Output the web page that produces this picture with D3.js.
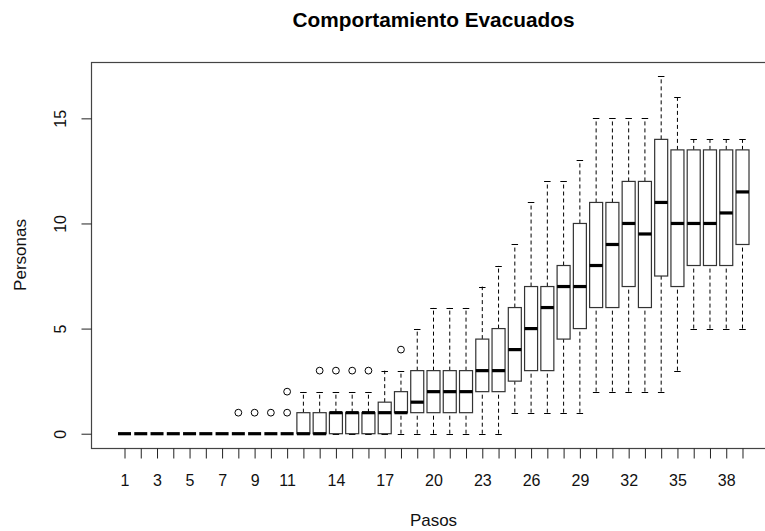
<!DOCTYPE html>
<html>
<head>
<meta charset="utf-8">
<script src="https://cdn.jsdelivr.net/npm/d3@7"></script>
<style>
  body { margin: 0; background: #fff; }
  svg { display: block; font-family: 'Liberation Sans', Arial, sans-serif; }
</style>
</head>
<body>
<div id="chart"></div>
<script>
// one box per step (Pasos 1..39)
const steps = d3.range(1, 40);
const whiskerLow = [0,0,0,0,0,0,0,0,0,0,0, 0,0,0,0,0,0,0,0,0,0,0,0,0, 1,1,1,1,1, 2,2,2,2,2, 3,5,5,5,5];
const q1 =         [0,0,0,0,0,0,0,0,0,0,0, 0,0,0,0,0,0,1,1,1,1,1,2,2, 2.5,3,3,4.5,5, 6,6,7,6,7.5, 7,8,8,8,9];
const median =     [0,0,0,0,0,0,0,0,0,0,0, 0,0,1,1,1,1,1,1.5,2,2,2,3,3, 4,5,6,7,7, 8,9,10,9.5,11, 10,10,10,10.5,11.5];
const q3 =         [0,0,0,0,0,0,0,0,0,0,0, 1,1,1,1,1,1.5,2,3,3,3,3,4.5,5, 6,7,7,8,10, 11,11,12,12,14, 13.5,13.5,13.5,13.5,13.5];
const whiskerHigh =[0,0,0,0,0,0,0,0,0,0,0, 2,2,2,2,2,3,3,5,6,6,6,7,8, 9,11,12,12,13, 15,15,15,15,17, 16,14,14,14,14];
// outliers: [step, value]
const outliers = [[8,1],[9,1],[10,1],[11,1],[11,2],[13,3],[14,3],[15,3],[16,3],[18,4]];
const shownLabels = [1,3,5,7,9,11,14,17,20,23,26,29,32,35,38];
const yTicks = [0,5,10,15];

const width = 765, height = 531;
const plotLeft = 91, plotRight = 776, plotTop = 62, plotBottom = 448;

const boxes = steps.map((s, i) => ({
  step: s, lo: whiskerLow[i], q1: q1[i], med: median[i], q3: q3[i], hi: whiskerHigh[i]
}));

// R style: 4% extension of the ranges
const xScale = d3.scaleLinear()
    .domain([0.5 - 39 * 0.04, 39.5 + 39 * 0.04])
    .range([plotLeft, plotRight]);
const yMax = 17, ySpan = yMax - 0;
const yScale = d3.scaleLinear()
    .domain([0 - ySpan * 0.04, yMax + ySpan * 0.04])
    .range([plotBottom, plotTop]);

const unit = xScale(2) - xScale(1);
const boxW = unit * 0.8;
const capW = boxW * 0.5;

const svg = d3.select('#chart').append('svg')
    .attr('width', width)
    .attr('height', height);

svg.append('text')
    .attr('x', (plotLeft + plotRight) / 2)
    .attr('y', 27)
    .attr('text-anchor', 'middle')
    .style('font-size', '20.8px')
    .style('font-weight', 'bold')
    .text('Comportamiento Evacuados');

const g = svg.append('g');

// whiskers
g.selectAll('.whisker-lo')
    .data(boxes)
  .enter().append('line')
    .attr('x1', (d) => xScale(d.step))
    .attr('x2', (d) => xScale(d.step))
    .attr('y1', (d) => yScale(d.lo))
    .attr('y2', (d) => yScale(d.q1))
    .attr('stroke', '#000')
    .attr('stroke-dasharray', '4,3');

g.selectAll('.whisker-hi')
    .data(boxes)
  .enter().append('line')
    .attr('x1', (d) => xScale(d.step))
    .attr('x2', (d) => xScale(d.step))
    .attr('y1', (d) => yScale(d.q3))
    .attr('y2', (d) => yScale(d.hi))
    .attr('stroke', '#000')
    .attr('stroke-dasharray', '4,3');

// staples
['lo', 'hi'].forEach((k) => {
  g.selectAll('.staple-' + k)
      .data(boxes)
    .enter().append('line')
      .attr('x1', (d) => xScale(d.step) - capW / 2)
      .attr('x2', (d) => xScale(d.step) + capW / 2)
      .attr('y1', (d) => Math.round(yScale(d[k])) + 0.5)
      .attr('y2', (d) => Math.round(yScale(d[k])) + 0.5)
      .attr('stroke', '#000');
});

// boxes
g.selectAll('.box')
    .data(boxes)
  .enter().append('rect')
    .attr('x', (d) => xScale(d.step) - boxW / 2)
    .attr('y', (d) => yScale(d.q3))
    .attr('width', boxW)
    .attr('height', (d) => yScale(d.q1) - yScale(d.q3))
    .attr('fill', '#fff')
    .attr('stroke', '#333')
    .attr('stroke-width', 1.2);

// medians
g.selectAll('.median')
    .data(boxes)
  .enter().append('line')
    .attr('x1', (d) => xScale(d.step) - boxW / 2)
    .attr('x2', (d) => xScale(d.step) + boxW / 2)
    .attr('y1', (d) => yScale(d.med))
    .attr('y2', (d) => yScale(d.med))
    .attr('stroke', '#000')
    .attr('stroke-width', 3.2);

// outliers
g.selectAll('.outlier')
    .data(outliers)
  .enter().append('circle')
    .attr('cx', (d) => xScale(d[0]))
    .attr('cy', (d) => yScale(d[1]))
    .attr('r', 3.4)
    .attr('fill', 'none')
    .attr('stroke', '#000');

// frame
svg.append('rect')
    .attr('x', plotLeft + 0.5)
    .attr('y', plotTop + 0.5)
    .attr('width', plotRight - plotLeft)
    .attr('height', plotBottom - plotTop)
    .attr('fill', 'none')
    .attr('stroke', '#444')
    .attr('stroke-width', 1.2);

// axes
const xAxis = d3.axisBottom(xScale)
    .tickValues(steps)
    .tickSize(10)
    .tickPadding(16)
    .tickFormat((d) => shownLabels.includes(d) ? d : '');

svg.append('g')
    .attr('transform', `translate(0, ${plotBottom + 0.5})`)
    .call(xAxis)
    .call((a) => a.select('.domain').remove())
    .call((a) => a.selectAll('text')
        .style('font-size', '16px')
        .style('fill', '#111')
        .style('font-family', "'Liberation Sans', Arial, sans-serif"))
    .call((a) => a.selectAll('line').attr('stroke', '#222'));

const yAxis = d3.axisLeft(yScale)
    .tickValues(yTicks)
    .tickSize(10);

svg.append('g')
    .attr('transform', `translate(${plotLeft + 0.5}, 0)`)
    .call(yAxis)
    .call((a) => a.select('.domain').remove())
    .call((a) => a.selectAll('line').attr('stroke', '#222'))
    .call((a) => a.selectAll('text')
        .attr('x', 0)
        .attr('y', -26)
        .attr('dy', 0)
        .attr('transform', 'rotate(-90)')
        .style('text-anchor', 'middle')
        .style('font-size', '16px')
        .style('fill', '#111')
        .style('font-family', "'Liberation Sans', Arial, sans-serif"));

svg.append('text')
    .attr('x', (plotLeft + plotRight) / 2)
    .attr('y', 526)
    .attr('text-anchor', 'middle')
    .style('font-size', '17px')
    .style('fill', '#111')
    .text('Pasos');

svg.append('text')
    .attr('transform', `translate(26, ${(plotTop + plotBottom) / 2}) rotate(-90)`)
    .attr('text-anchor', 'middle')
    .style('font-size', '17px')
    .style('fill', '#111')
    .text('Personas');
</script>
</body>
</html>
